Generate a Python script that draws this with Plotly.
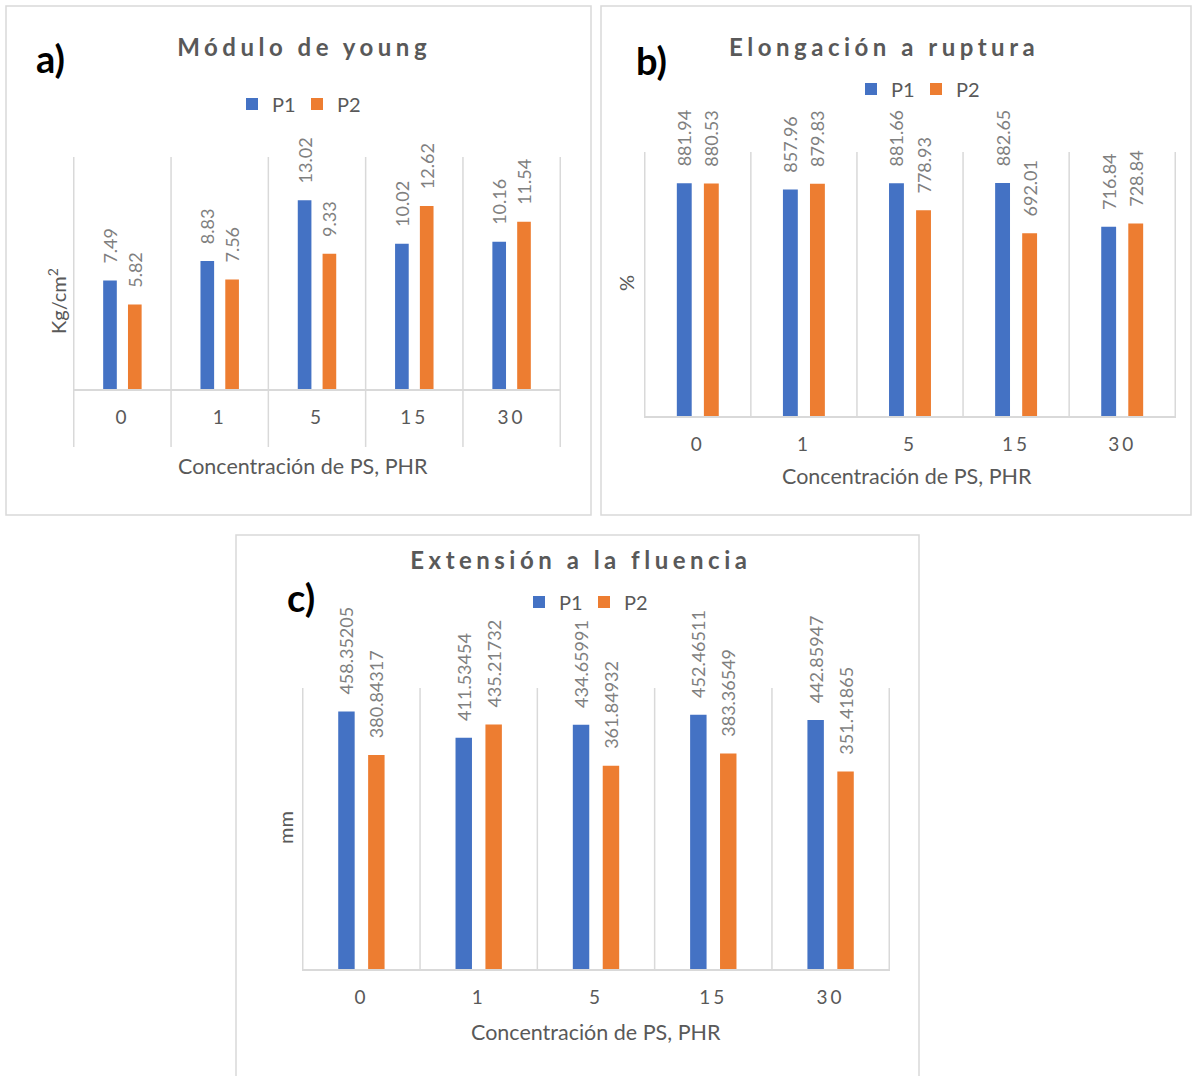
import plotly.graph_objects as go

W, H = 1192, 1076

categories = ["0", "1", "5", "15", "30"]
series_names = ["P1", "P2"]

young_p1 = [7.49, 8.83, 13.02, 10.02, 10.16]
young_p2 = [5.82, 7.56, 9.33, 12.62, 11.54]

elong_p1 = [881.94, 857.96, 881.66, 882.65, 716.84]
elong_p2 = [880.53, 879.83, 778.93, 692.01, 728.84]

ext_p1 = [458.35205, 411.53454, 434.65991, 452.46511, 442.85947]
ext_p2 = [380.84317, 435.21732, 361.84932, 383.36549, 351.41865]

titles = ["Módulo de young", "Elongación a ruptura", "Extensión a la fluencia"]
panel_tags = ["a)", "b)", "c)"]
y_titles = ["Kg/cm<sup>2</sup>", "%", "mm"]
x_title = "Concentración de PS, PHR"

BLUE = "#4472C4"
ORANGE = "#ED7D31"
GRID = "#D9D9D9"
TXT = "#595959"
LBL = "#7F7F7F"
FONT = "Lato"


def xp(px):
    return px / W


def yp(py):
    return 1 - py / H


fig = go.Figure()

panels = [
    dict(xa="x", ya="y", leg="legend", dx=(73, 561), dy=(157, 389), rng=[0, 16],
         p1=young_p1, p2=young_p2, fmt=".2f", title_c=(304, 47), tag_c=(50, 58),
         leg_c=(297, 104), yt_c=(57, 301), xt_c=(303, 466), ext=True,
         border=(6, 6, 591, 515)),
    dict(xa="x2", ya="y2", leg="legend2", dx=(644, 1176), dy=(152, 416), rng=[0, 1000],
         p1=elong_p1, p2=elong_p2, fmt=".2f", title_c=(884, 47), tag_c=(651, 60),
         leg_c=(916, 89), yt_c=(626, 283), xt_c=(907, 476), ext=False,
         border=(601, 6, 1191, 515)),
    dict(xa="x3", ya="y3", leg="legend3", dx=(302, 890), dy=(688, 969), rng=[0, 500],
         p1=ext_p1, p2=ext_p2, fmt=".5f", title_c=(581, 559), tag_c=(301, 597),
         leg_c=(584, 602), yt_c=(285, 828), xt_c=(596, 1032), ext=False,
         border=(236, 535, 919, 1090)),
]

pad = "\u00a0\u00a0\u00a0"
annotations = []
shapes = []
layout_axes = {}

for i, p in enumerate(panels):
    for name, vals, col in [(series_names[0], p["p1"], BLUE), (series_names[1], p["p2"], ORANGE)]:
        fig.add_trace(go.Bar(
            x=categories, y=vals, name=name, marker_color=col,
            marker_line_width=0,
            xaxis=p["xa"], yaxis=p["ya"], legend=p["leg"],
            texttemplate=pad + "%{y:" + p["fmt"] + "}",
            textposition="outside", textangle=-90, cliponaxis=False,
            constraintext="none",
            textfont=dict(color=LBL, size=18, family=FONT),
            hoverinfo="skip",
        ))
    xkey = "xaxis" if i == 0 else f"xaxis{i+1}"
    ykey = "yaxis" if i == 0 else f"yaxis{i+1}"
    layout_axes[xkey] = dict(
        domain=[xp(p["dx"][0]), xp(p["dx"][1])], anchor=p["ya"],
        type="category", showgrid=False, zeroline=False,
        showline=True, linecolor=GRID, linewidth=1.5,
        ticks="outside", ticklen=10, tickcolor="rgba(0,0,0,0)",
        tickfont=dict(size=19, color=TXT, family=FONT), fixedrange=True,
    )
    layout_axes[ykey] = dict(
        domain=[yp(p["dy"][1]), yp(p["dy"][0])], anchor=p["xa"],
        range=p["rng"], visible=False, fixedrange=True,
    )
    # category separators
    bottom = 447 if p["ext"] else p["dy"][1]
    for k in range(len(categories) + 1):
        shapes.append(dict(type="line", xref=p["xa"], yref="paper",
                           x0=k - 0.5, x1=k - 0.5,
                           y0=yp(p["dy"][0]), y1=yp(bottom),
                           line=dict(color=GRID, width=1.5), layer="below"))
    # panel border
    bx0, by0, bx1, by1 = p["border"]
    shapes.append(dict(type="rect", xref="paper", yref="paper",
                       x0=xp(bx0), x1=xp(bx1), y0=yp(by1), y1=yp(by0),
                       line=dict(color=GRID, width=1.5), layer="below"))
    # title
    annotations.append(dict(text="<b>" + titles[i] + "</b>", xref="paper", yref="paper",
                            x=xp(p["title_c"][0]), y=yp(p["title_c"][1]),
                            xanchor="center", yanchor="middle", showarrow=False,
                            font=dict(size=24, color=TXT, family=FONT)))
    annotations.append(dict(text="<b>" + panel_tags[i] + "</b>", xref="paper", yref="paper",
                            x=xp(p["tag_c"][0]), y=yp(p["tag_c"][1]),
                            xanchor="center", yanchor="middle", showarrow=False,
                            font=dict(size=38, color="#000000", family=FONT)))
    annotations.append(dict(text=y_titles[i], xref="paper", yref="paper",
                            x=xp(p["yt_c"][0]), y=yp(p["yt_c"][1]), textangle=-90,
                            xanchor="center", yanchor="middle", showarrow=False,
                            font=dict(size=20, color=TXT, family=FONT)))
    annotations.append(dict(text=x_title, xref="paper", yref="paper",
                            x=xp(p["xt_c"][0]), y=yp(p["xt_c"][1]),
                            xanchor="center", yanchor="middle", showarrow=False,
                            font=dict(size=21.5, color=TXT, family=FONT)))
    legkey = p["leg"]
    layout_axes[legkey] = dict(
        orientation="h", x=xp(p["leg_c"][0]), y=yp(p["leg_c"][1]),
        xanchor="center", yanchor="middle", bgcolor="rgba(0,0,0,0)",
        font=dict(size=20, color=TXT, family=FONT), itemclick=False,
        itemdoubleclick=False, tracegroupgap=0, entrywidth=20, entrywidthmode="pixels",
    )

fig.update_layout(
    width=W, height=H, margin=dict(l=0, r=0, t=0, b=0),
    paper_bgcolor="white", plot_bgcolor="rgba(0,0,0,0)",
    barmode="group", bargap=0.49, bargroupgap=0.45,
    showlegend=True, annotations=annotations, shapes=shapes,
    font=dict(family=FONT, color=TXT),
    **layout_axes,
)

post = """
document.body.style.margin = '0';
document.body.style.padding = '0';
var gd = document.getElementById('{plot_id}');
function sp(){
  var keys = ['young','ruptura','fluencia'];
  gd.querySelectorAll('.annotation-text').forEach(function(t){
    var s = t.textContent;
    keys.forEach(function(k){ if (s.indexOf(k) >= 0) { t.style.letterSpacing = '4.5px'; } });
  });
  gd.querySelectorAll('.xaxislayer-above text').forEach(function(t){ t.style.letterSpacing = '3px'; });
}
sp();
gd.on('plotly_afterplot', sp);
"""

fig.write_html("out.html", post_script=post, config={"displayModeBar": False})
